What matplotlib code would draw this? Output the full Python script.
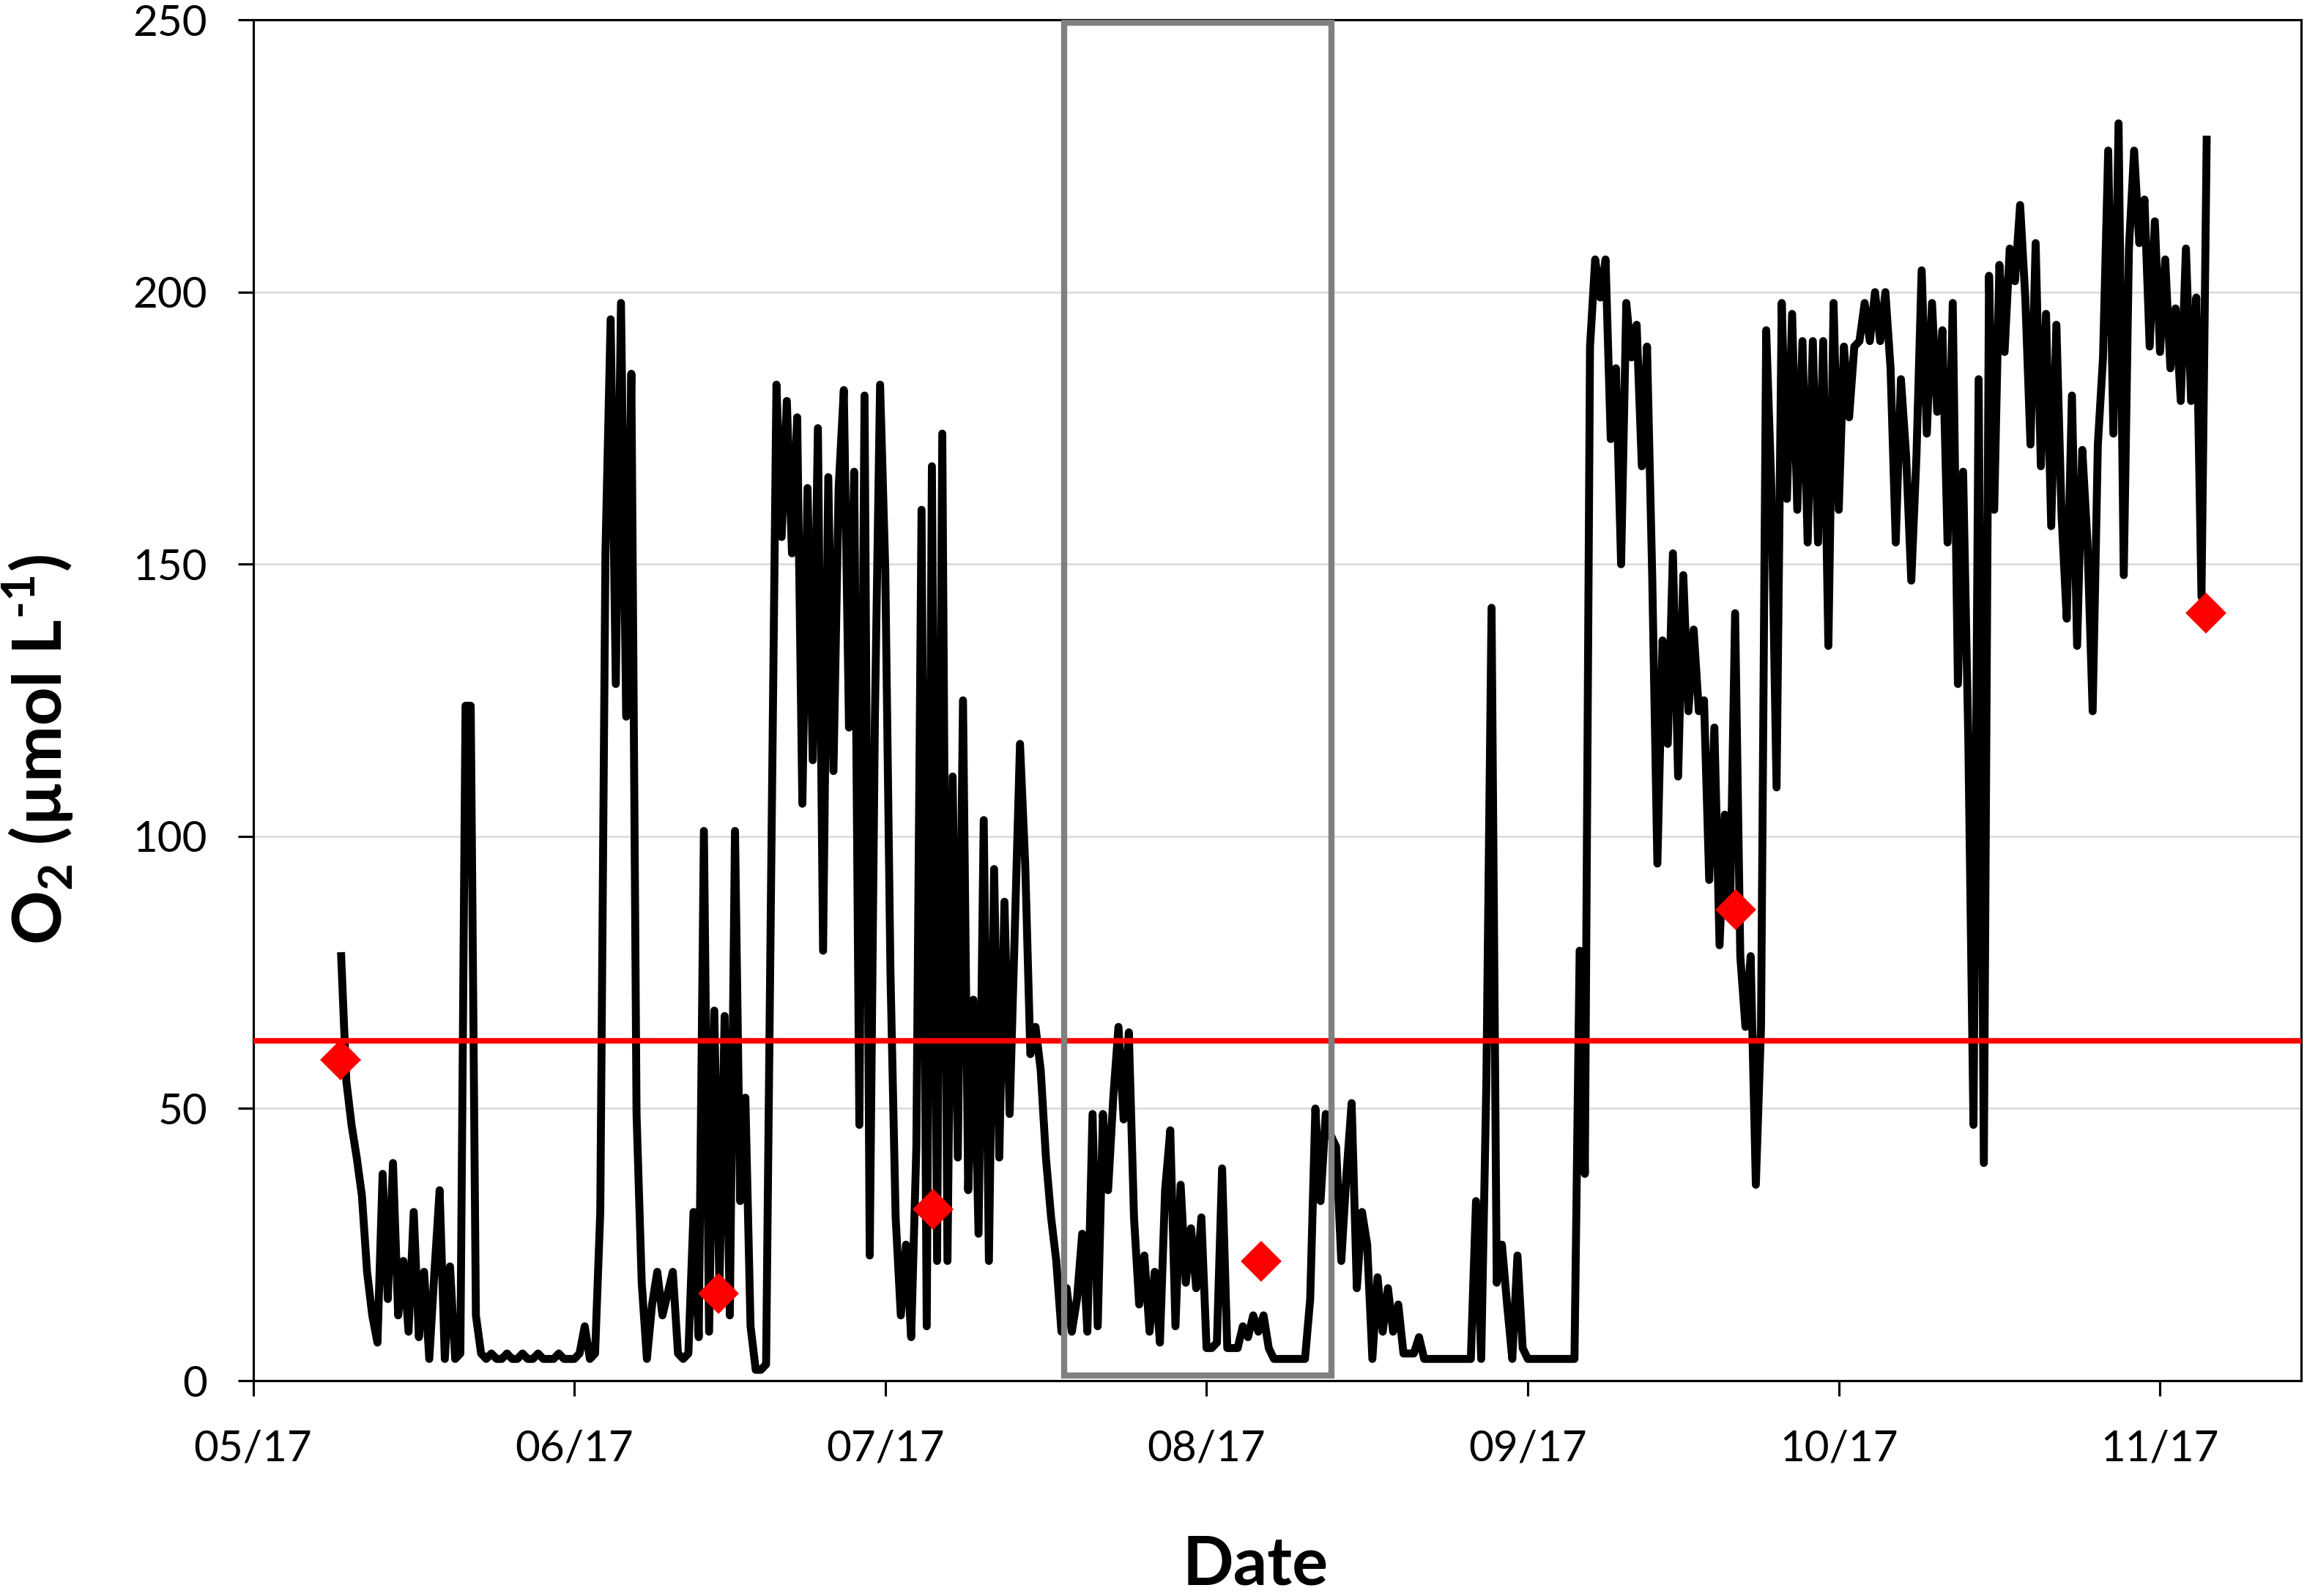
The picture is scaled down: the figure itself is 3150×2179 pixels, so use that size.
import matplotlib.pyplot as plt
import matplotlib.dates as mdates
from matplotlib.patches import Rectangle
import pandas as pd

plt.rcParams['font.family'] = ['Lato', 'DejaVu Sans']
plt.rcParams['mathtext.fontset'] = 'custom'
plt.rcParams['mathtext.rm'] = 'Lato:bold'

# logger O2 (µmol/L), two readings per day (00:00 and 12:00)
may_o2 = [78,
          55, 47, 41, 34, 20, 12, 7, 38, 15, 40,
          12, 22, 9, 31, 8, 20, 4, 20, 35, 4,
          21, 4, 5, 124, 124, 12, 5, 4, 5, 4,
          4, 5, 4, 4, 5, 4, 4, 5, 4, 4,
          4, 5, 4, 4]
jun_o2 = [4, 5, 10, 4, 5, 31, 152, 195, 128, 198,
          122, 185, 49, 18, 4, 14, 20, 12, 16, 20,
          5, 4, 5, 31, 8, 101, 9, 68, 17, 67,
          12, 101, 33, 52, 10, 2, 2, 3, 95, 183,
          155, 180, 152, 177, 106, 164, 114, 175, 79, 166,
          112, 164, 182, 120, 167, 47, 181, 23, 122, 183]
jul_o2 = [149, 75, 30, 12, 25, 8, 43, 160, 10, 168,
          22, 174, 22, 111, 41, 125, 35, 70, 27, 103,
          22, 94, 41, 88, 49, 83, 117, 95, 60, 65,
          57, 41, 30, 22, 9, 17, 9, 15, 27, 9,
          49, 10, 49, 35, 52, 65, 48, 64, 30, 14,
          23, 9, 20, 7, 35, 46, 10, 36, 18, 28,
          17, 30]
aug_o2 = [6, 6, 7, 39, 6, 6, 6, 10, 8, 12,
          9, 12, 6, 4, 4, 4, 4, 4, 4, 4,
          15, 50, 33, 49, 45, 43, 22, 38, 51, 17,
          31, 25, 4, 19, 9, 17, 9, 14, 5, 5,
          5, 8, 4, 4, 4, 4, 4, 4, 4, 4,
          4, 4, 33, 4, 55, 142, 18, 25, 14, 4,
          23, 6]
sep_o2 = [4, 4, 4, 4, 4, 4, 4, 4, 4, 4,
          79, 38, 190, 206, 199, 206, 173, 186, 150, 198,
          188, 194, 168, 190, 148, 95, 136, 117, 152, 111,
          148, 123, 138, 123, 125, 92, 120, 80, 104, 85,
          141, 78, 65, 78, 36, 65, 193, 164, 109, 198,
          162, 196, 160, 191, 154, 191, 154, 191, 135, 198]
oct_o2 = [160, 190, 177, 190, 191, 198, 191, 200, 191, 200,
          186, 154, 184, 170, 147, 170, 204, 174, 198, 178,
          193, 154, 198, 128, 167, 118, 47, 184, 40, 203,
          160, 205, 189, 208, 202, 216, 199, 172, 209, 168,
          196, 157, 194, 159, 140, 181, 135, 171, 154, 123,
          172, 188, 226, 174, 231, 148, 208, 226, 209, 217,
          190, 213]
nov_o2 = [189, 206, 186, 197, 180, 208, 180, 199, 144, 228]

month_starts = ["2017-05-09 12:00", "2017-06-01", "2017-07-01", "2017-08-01",
                "2017-09-01", "2017-10-01", "2017-11-01"]

# discrete samples (red diamonds)
sample_dates = ["2017-05-09 10:00", "2017-06-14 22:00", "2017-07-05 14:00",
                "2017-08-06 07:00", "2017-09-21 02:00", "2017-11-05 10:00"]
sample_o2 = [59, 16, 31.5, 22, 86.5, 141]

hypoxia_limit = 62.5
box_start, box_end = "2017-07-18 07:00", "2017-08-13 02:00"
box_low, box_high = 1, 249.5


def build_series():
    parts = []
    months = [may_o2, jun_o2, jul_o2, aug_o2, sep_o2, oct_o2, nov_o2]
    for start, vals in zip(month_starts, months):
        idx = pd.date_range(start, periods=len(vals), freq="12h")
        parts.append(pd.Series(vals, index=idx, dtype=float))
    return pd.concat(parts)


def main():
    o2 = build_series()

    fig = plt.figure(figsize=(10.5, 2179 / 300), dpi=300)
    ax = fig.add_axes([0.1097, 0.1349, 0.8878, 0.8526])

    ax.plot(o2.index, o2.values, color="black", lw=2.6, zorder=2)
    ax.axhline(hypoxia_limit, color="#ff0000", lw=1.8, zorder=3)
    ax.plot(pd.to_datetime(sample_dates), sample_o2, linestyle="none",
            marker="D", ms=8.5, color="#ff0000", zorder=4)

    x0 = mdates.date2num(pd.Timestamp(box_start))
    x1 = mdates.date2num(pd.Timestamp(box_end))
    ax.add_patch(Rectangle((x0, box_low), x1 - x0, box_high - box_low,
                           fill=False, edgecolor="#808080", lw=2.0, zorder=5))

    ax.set_xlim(pd.Timestamp("2017-05-01"), pd.Timestamp("2017-11-14 15:00"))
    ax.set_ylim(0, 250)
    ax.set_yticks(range(0, 251, 50))
    ax.xaxis.set_major_locator(mdates.MonthLocator())
    ax.xaxis.set_major_formatter(mdates.DateFormatter("%m/%y"))

    ax.yaxis.grid(True, color="#d9d9d9", lw=0.6)
    ax.set_axisbelow(True)
    for sp in ax.spines.values():
        sp.set_linewidth(0.75)
        sp.set_color("black")
    ax.tick_params(axis="both", direction="out", length=5, width=0.75,
                   labelsize=14, colors="black")
    ax.tick_params(axis="x", pad=11)
    ax.tick_params(axis="y", pad=10)

    fig.text(0.0165, 0.5303, r"O$_{\text{2}}$ (µmol L$^{\text{-1}}$)",
             rotation=90, ha="center", va="center", fontsize=22, fontweight="bold")
    fig.text(0.5441, 0.007, "Date", ha="center", va="baseline",
             fontsize=22, fontweight="bold")

    fig.savefig("out.png", dpi=300)
    plt.close(fig)


if __name__ == "__main__":
    main()
